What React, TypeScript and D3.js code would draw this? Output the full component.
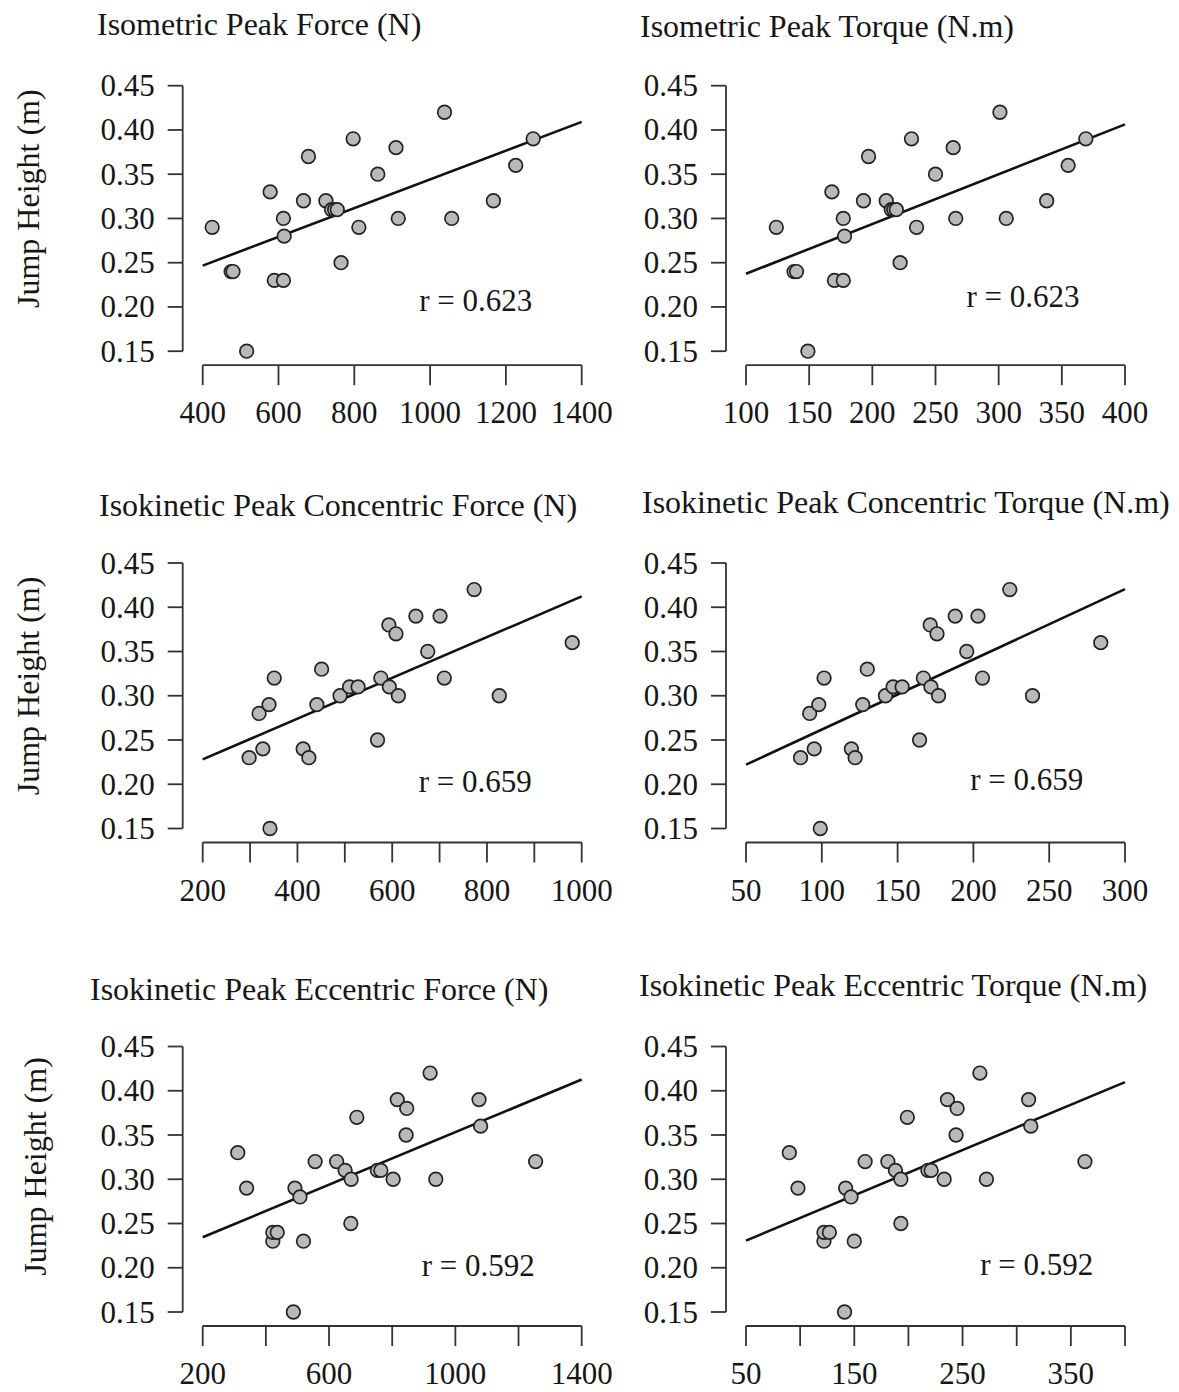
import React from 'react';
import * as d3 from 'd3';

// values, one pair of arrays per panel
const isoForceX = [425, 475, 480, 516, 578, 589, 613, 613, 615, 679, 666, 725, 740, 748, 755, 765, 797, 812, 862, 910, 916, 1038, 1057, 1167, 1226, 1272];
const isoForceY = [0.29, 0.24, 0.24, 0.15, 0.33, 0.23, 0.23, 0.30, 0.28, 0.37, 0.32, 0.32, 0.31, 0.31, 0.31, 0.25, 0.39, 0.29, 0.35, 0.38, 0.30, 0.42, 0.30, 0.32, 0.36, 0.39];

const isoTorqueX = [124, 138, 140, 149, 168, 170, 177, 177, 178, 197, 193, 211, 215, 217, 219, 222, 231, 235, 250, 264, 266, 301, 306, 338, 355, 369];
const isoTorqueY = [0.29, 0.24, 0.24, 0.15, 0.33, 0.23, 0.23, 0.30, 0.28, 0.37, 0.32, 0.32, 0.31, 0.31, 0.31, 0.25, 0.39, 0.29, 0.35, 0.38, 0.30, 0.42, 0.30, 0.32, 0.36, 0.39];

const conForceX = [298, 327, 319, 340, 351, 342, 412, 424, 441, 451, 490, 510, 528, 569, 576, 593, 608, 594, 613, 650, 675, 701, 710, 773, 826, 980];
const conForceY = [0.23, 0.24, 0.28, 0.29, 0.32, 0.15, 0.24, 0.23, 0.29, 0.33, 0.30, 0.31, 0.31, 0.25, 0.32, 0.38, 0.37, 0.31, 0.30, 0.39, 0.35, 0.39, 0.32, 0.42, 0.30, 0.36];

const conTorqueX = [86, 95, 92, 98, 101.5, 99, 119.5, 122, 127, 130, 142, 147, 153, 164.5, 167, 171.5, 176, 172, 177, 188, 195.6, 203, 206, 224, 239, 284];
const conTorqueY = [0.23, 0.24, 0.28, 0.29, 0.32, 0.15, 0.24, 0.23, 0.29, 0.33, 0.30, 0.31, 0.31, 0.25, 0.32, 0.38, 0.37, 0.31, 0.30, 0.39, 0.35, 0.39, 0.32, 0.42, 0.30, 0.36];

const eccForceX = [311, 339, 422, 422, 436, 487, 492, 508, 519, 556, 624, 651, 670, 669, 688, 753, 764, 803, 816, 846, 844, 920, 938, 1075, 1080, 1254];
const eccForceY = [0.33, 0.29, 0.23, 0.24, 0.24, 0.15, 0.29, 0.28, 0.23, 0.32, 0.32, 0.31, 0.30, 0.25, 0.37, 0.31, 0.31, 0.30, 0.39, 0.38, 0.35, 0.42, 0.30, 0.39, 0.36, 0.32];

const eccTorqueX = [90, 98, 122, 122, 127, 141, 142, 147, 150, 160, 181, 188, 193, 193, 199, 218, 221, 233, 236, 245, 244, 266, 272, 311, 313, 363];
const eccTorqueY = [0.33, 0.29, 0.23, 0.24, 0.24, 0.15, 0.29, 0.28, 0.23, 0.32, 0.32, 0.31, 0.30, 0.25, 0.37, 0.31, 0.31, 0.30, 0.39, 0.38, 0.35, 0.42, 0.30, 0.39, 0.36, 0.32];

const titles = [
  'Isometric Peak Force (N)',
  'Isometric Peak Torque (N.m)',
  'Isokinetic Peak Concentric Force (N)',
  'Isokinetic Peak Concentric Torque (N.m)',
  'Isokinetic Peak Eccentric Force (N)',
  'Isokinetic Peak Eccentric Torque (N.m)',
];
const rLabels = ['r = 0.623', 'r = 0.623', 'r = 0.659', 'r = 0.659', 'r = 0.592', 'r = 0.592'];
const xDomains = [[400, 1400], [100, 400], [200, 1000], [50, 300], [200, 1400], [50, 400]];
const xTickSteps = [200, 50, 100, 50, 200, 50];
const xLabelEvery = [1, 1, 2, 1, 2, 2];
const yTicks = [0.15, 0.2, 0.25, 0.3, 0.35, 0.4, 0.45];
const yLabel = 'Jump Height (m)';

const xs = [isoForceX, isoTorqueX, conForceX, conTorqueX, eccForceX, eccTorqueX];
const ys = [isoForceY, isoTorqueY, conForceY, conTorqueY, eccForceY, eccTorqueY];

// layout (pixels)
const W = 1179, H = 1392;
const colLeft = [202.7, 746];
const rowTop = [85.7, 563, 1046.5];
const plotW = 379;
const plotH = 265.5;
const titlePos = [[97, 34.5], [640, 36.5], [99, 516], [642, 513], [90, 1000], [639, 996]];
const rPos = [[273, 224.8], [277, 221], [272.6, 228.7], [280.7, 226.8], [275.6, 229.2], [290.7, 228]];
const yLabelPos = [[39, 113], [39, 123], [46, 120]];

const font = '"Liberation Serif", "Times New Roman", serif';
const ink = '#161616';
const axisCol = '#333';

// least squares fit, drawn across the axis range
function fit(x, y) {
  const mx = d3.mean(x), my = d3.mean(y);
  let sxy = 0, sxx = 0;
  x.forEach((v, i) => { sxy += (v - mx) * (y[i] - my); sxx += (v - mx) * (v - mx); });
  const slope = sxy / sxx;
  return { slope, intercept: my - slope * mx };
}

function Panel({ i }) {
  const col = i % 2, row = Math.floor(i / 2);
  const left = colLeft[col], top = rowTop[row];
  const [d0, d1] = xDomains[i];
  const x = d3.scaleLinear().domain([d0, d1]).range([left, left + plotW]);
  const y = d3.scaleLinear().domain([0.15, 0.45]).range([top + plotH, top]);
  const xTicks = d3.range(d0, d1 + 1e-9, xTickSteps[i]);
  const yAxisX = left - 20;
  const xAxisY = top + plotH + 14;
  const { slope, intercept } = fit(xs[i], ys[i]);
  const line = d3.line().x(d => x(d)).y(d => y(intercept + slope * d));

  return (
    <g>
      <text x={titlePos[i][0]} y={titlePos[i][1]} fontSize={32} fill={ink}>{titles[i]}</text>

      {/* y axis */}
      <line x1={yAxisX} x2={yAxisX} y1={y(0.15)} y2={y(0.45)} stroke={axisCol} strokeWidth={1.8} />
      {yTicks.map(t => (
        <g key={t}>
          <line x1={yAxisX - 15} x2={yAxisX} y1={y(t)} y2={y(t)} stroke={axisCol} strokeWidth={1.8} />
          <text x={yAxisX - 28} y={y(t)} dy="0.34em" textAnchor="end" fontSize={31} fill={ink}>{d3.format('.2f')(t)}</text>
        </g>
      ))}

      {/* x axis */}
      <line x1={x(d0)} x2={x(d1)} y1={xAxisY} y2={xAxisY} stroke={axisCol} strokeWidth={1.8} />
      {xTicks.map((t, k) => (
        <g key={t}>
          <line x1={x(t)} x2={x(t)} y1={xAxisY} y2={xAxisY + 20} stroke={axisCol} strokeWidth={1.8} />
          {k % xLabelEvery[i] === 0 && (
            <text x={x(t)} y={xAxisY + 58} textAnchor="middle" fontSize={31} fill={ink}>{t}</text>
          )}
        </g>
      ))}

      {col === 0 && (
        <text transform={`translate(${yLabelPos[row][0]},${top + yLabelPos[row][1]}) rotate(-90)`} textAnchor="middle" fontSize={32} fill={ink}>{yLabel}</text>
      )}

      <path d={line([d0, d1])} stroke="#111" strokeWidth={2.6} fill="none" />

      {xs[i].map((v, k) => (
        <circle key={k} cx={x(v)} cy={y(ys[i][k])} r={6.8} fill="#b9b9b9" stroke="#222" strokeWidth={1.7} />
      ))}

      <text x={left + rPos[i][0]} y={top + rPos[i][1]} textAnchor="middle" fontSize={31} fill={ink}>{rLabels[i]}</text>
    </g>
  );
}

export default function App() {
  return (
    <svg width={W} height={H} style={{ position: 'absolute', left: 0, top: 0, background: '#fff' }} fontFamily={font}>
      {d3.range(6).map(i => <Panel key={i} i={i} />)}
    </svg>
  );
}
